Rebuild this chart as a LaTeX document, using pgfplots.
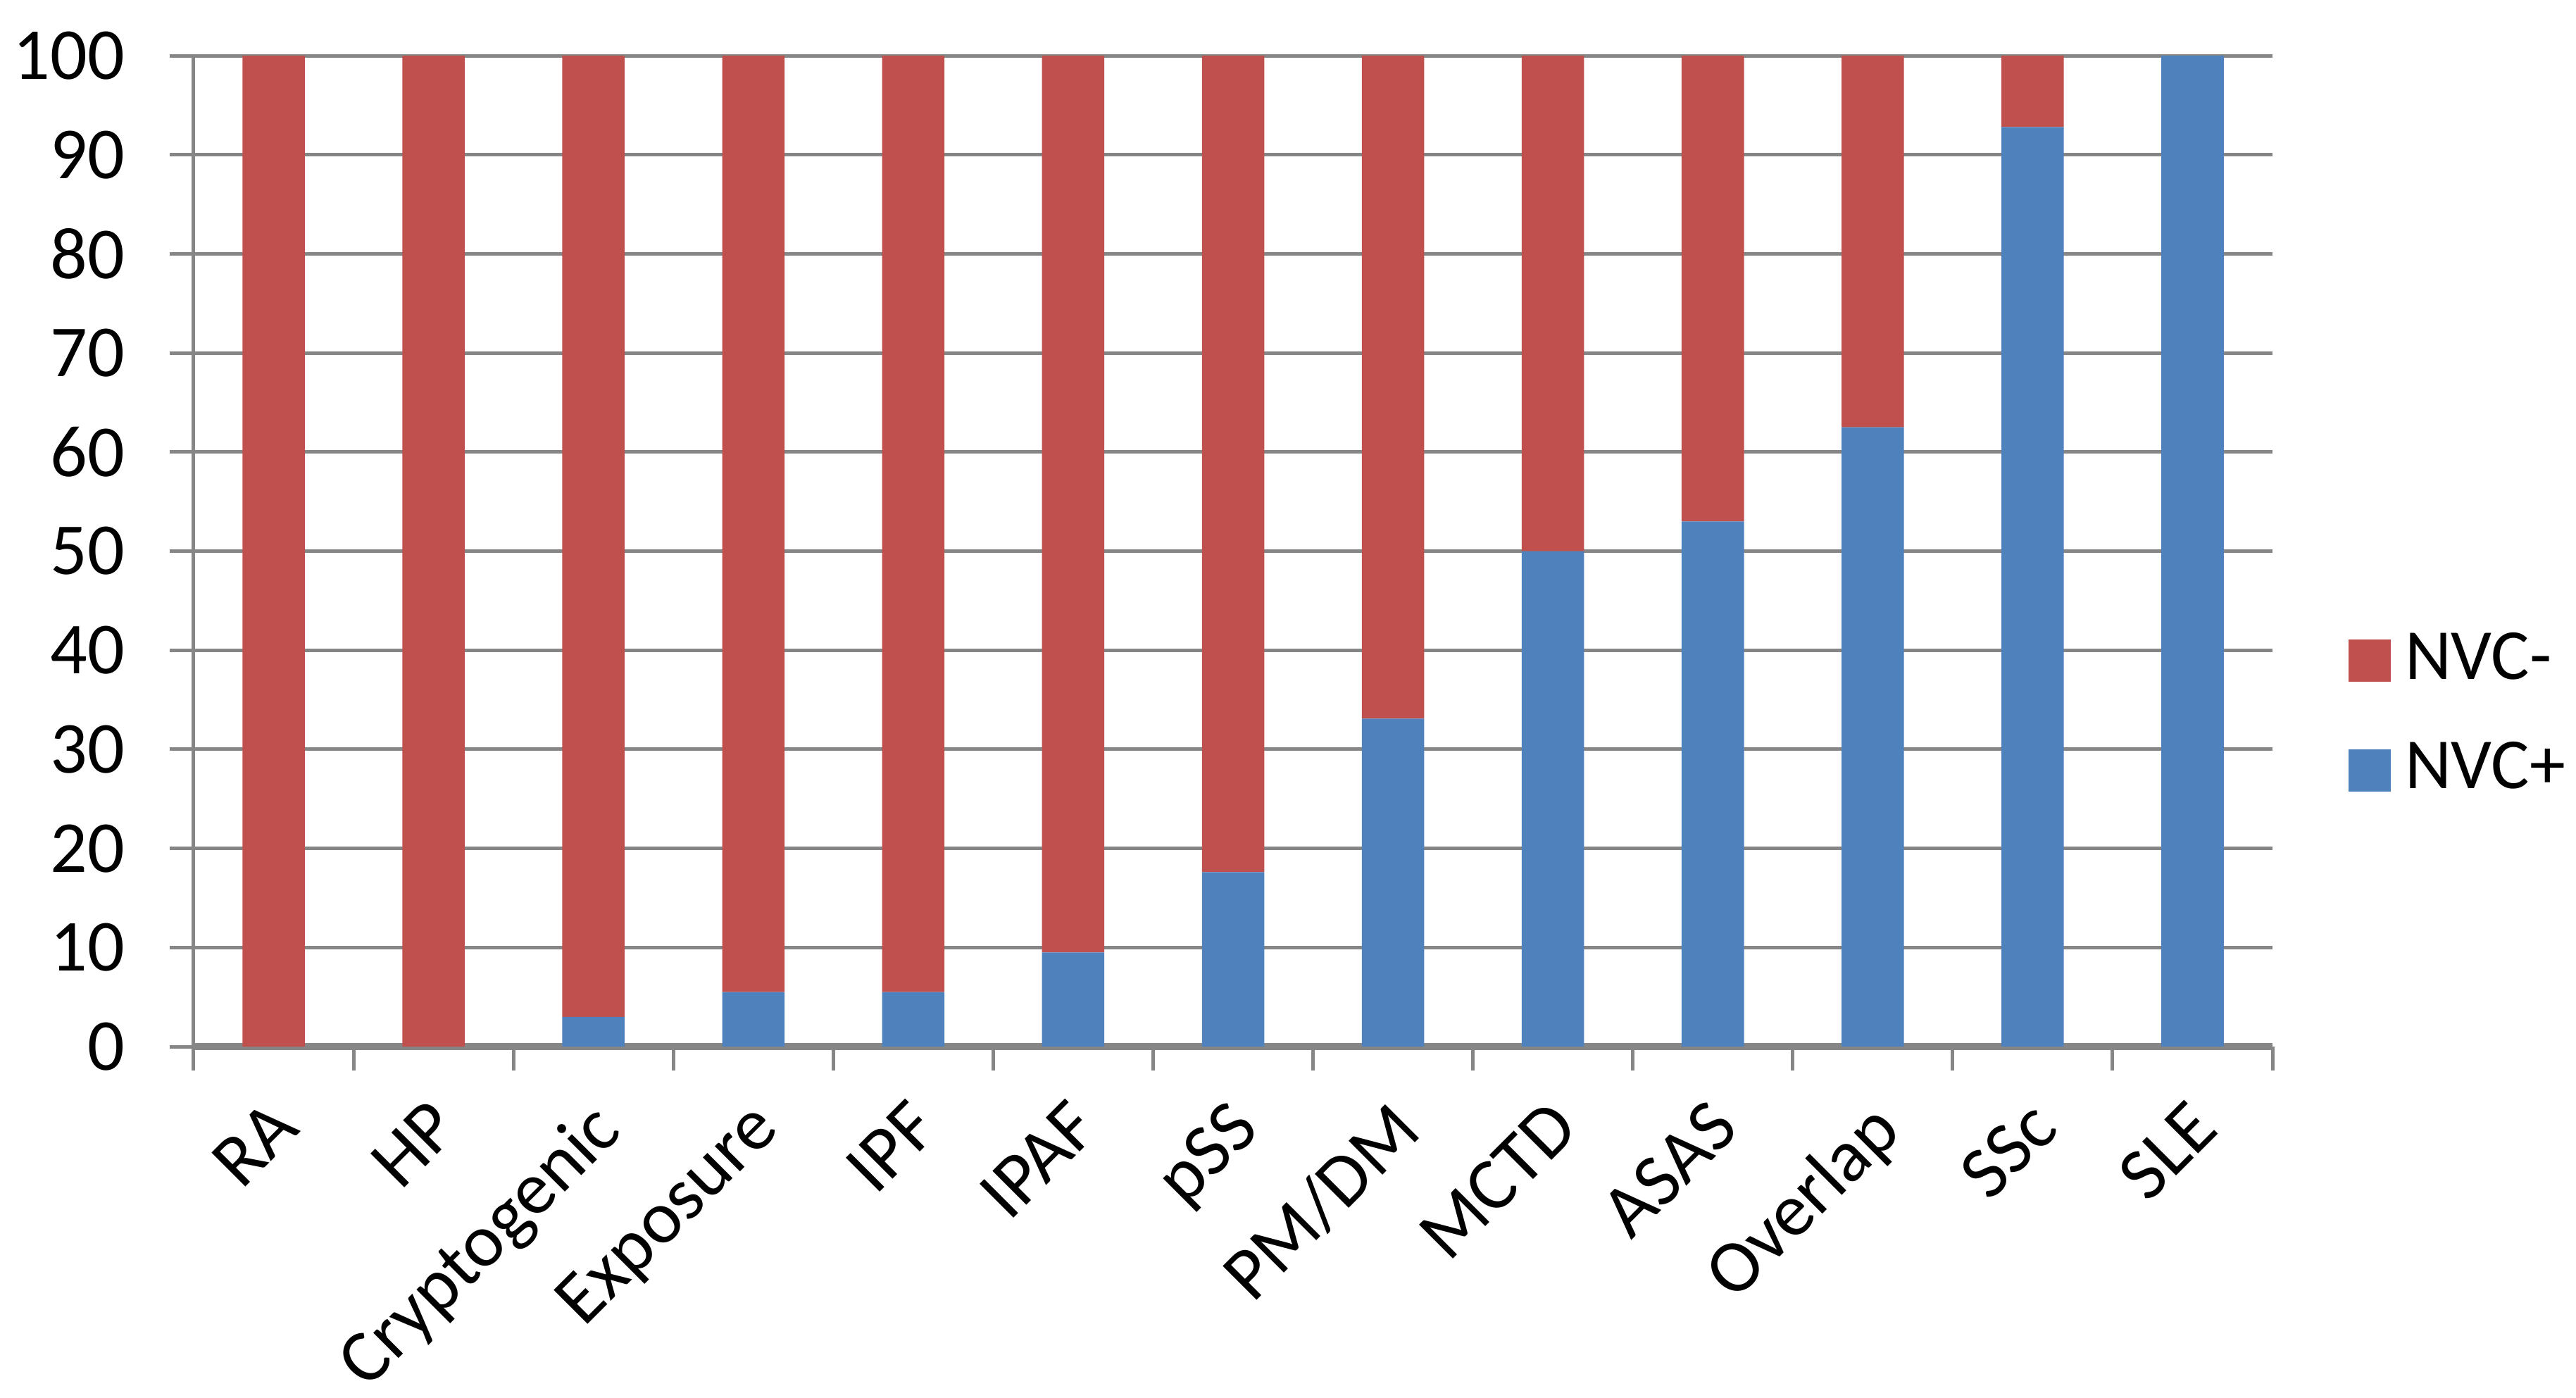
\documentclass[border=0pt]{standalone}
\usepackage{pgfplots}
\pgfplotsset{compat=1.18}
\usepackage{fontspec}
\setmainfont{Carlito}
\definecolor{nvcred}{HTML}{C0504D}
\definecolor{nvcblue}{HTML}{4F81BD}
\definecolor{gridgray}{HTML}{868686}
\begin{document}
\begin{tikzpicture}
\useasboundingbox (-27.5pt,-49.8pt) rectangle (338.3pt,148.6pt);
\begin{axis}[
  scale only axis, width=295.2pt, height=140.7pt,
  at={(0pt,0pt)}, anchor=south west,
  ybar stacked, bar width=0.39,
  xmin=-0.5, xmax=12.5, ymin=0, ymax=100,
  xtick={0,...,12},
  xticklabels={RA,HP,Cryptogenic,Exposure,IPF,IPAF,pSS,PM/DM,MCTD,ASAS,Overlap,SSc,SLE},
  minor xtick={-0.5,0.5,...,12.5},
  ytick={0,10,...,100},
  ymajorgrids,
  major grid style={gridgray, line width=0.5pt},
  axis x line*=bottom, axis y line*=left,
  x axis line style={gridgray, line width=1pt},
  y axis line style={gridgray, line width=0.5pt},
  tick style={gridgray, line width=0.5pt},
  major x tick style={draw=none},
  tick align=outside,
  major tick length=3.4pt, minor tick length=3.4pt,
  /pgf/number format/assume math mode=true,
  yticklabel style={font=\fontsize{10.4pt}{12pt}\selectfont, text=black, inner sep=0pt, xshift=-6.2pt},
  xticklabel style={font=\fontsize{10.6pt}{12pt}\selectfont, text=black, text depth=0pt, xshift=-0.9pt, yshift=-3.5pt, rotate=45, anchor=north east, inner sep=0pt},
  legend style={draw=none, fill=none, at={(1.0359,0.334)}, anchor=west,
    inner sep=0pt, font=\fontsize{10.2pt}{12pt}\selectfont, row sep=3.4pt},
  legend cell align=left,
  legend image code/.code={\fill[#1] (0pt,-3pt) rectangle (6pt,3pt);},
  reverse legend,
]
\addplot[fill=nvcblue, draw=none] coordinates {
  (0,0) (1,0) (2,3.0) (3,5.5) (4,5.5) (5,9.5) (6,17.6) (7,33.1)
  (8,50) (9,53) (10,62.5) (11,92.8) (12,100)};
\addlegendentry{NVC+}
\addplot[fill=nvcred, draw=none] coordinates {
  (0,100) (1,100) (2,97.0) (3,94.5) (4,94.5) (5,90.5) (6,82.4) (7,66.9)
  (8,50) (9,47) (10,37.5) (11,7.2) (12,0)};
\addlegendentry{NVC-}
\end{axis}
\end{tikzpicture}
\end{document}
